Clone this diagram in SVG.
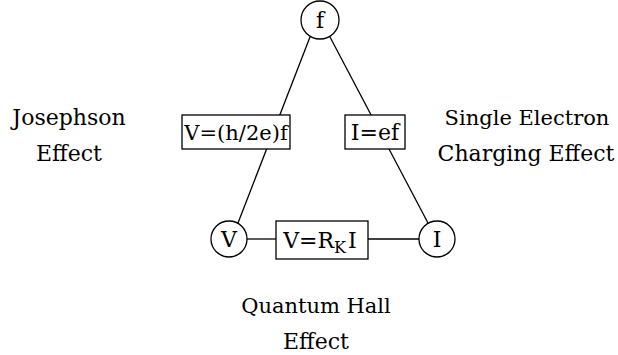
<svg xmlns="http://www.w3.org/2000/svg" width="618" height="355" viewBox="0 0 618 355">
<style>
text{font-family:"DejaVu Serif","Liberation Serif",serif;font-size:22px;fill:#000;text-anchor:middle}
.s21{font-size:21px}
.n{fill:#fff;stroke:#000;stroke-width:1.3}
.c{stroke:#000;stroke-width:1.3;fill:none}
</style>
<rect width="618" height="355" fill="#fff"/>
<g id="connectors">
<line class="c" x1="310" y1="37" x2="238" y2="223"/>
<line class="c" x1="330" y1="37" x2="428" y2="223"/>
<line class="c" x1="247" y1="239" x2="276" y2="239"/>
<line class="c" x1="368" y1="239" x2="419" y2="239"/>
</g>
<g id="node-f"><circle class="n" cx="320" cy="20" r="19"/><text x="320" y="28">f</text></g>
<g id="node-V"><circle class="n" cx="229" cy="239" r="18"/><text x="229" y="247">V</text></g>
<g id="node-I"><circle class="n" cx="437" cy="239" r="18"/><text x="437" y="247">I</text></g>
<g id="box-josephson"><rect class="n" x="182" y="115" width="108" height="34"/><text class="s21" x="236" y="140">V=(h/2e)f</text></g>
<g id="box-single"><rect class="n" x="345" y="115" width="60" height="34"/><text x="375" y="140">I=ef</text></g>
<g id="box-hall"><rect class="n" x="276" y="221" width="92" height="38"/><text x="320" y="248">V=R<tspan font-size="16" dy="5">K</tspan><tspan dy="-5" dx="2">I</tspan></text></g>
<g id="label-josephson"><text x="69" y="125">Josephson</text><text x="69" y="161">Effect</text></g>
<g id="label-single"><text class="s21" x="527" y="125">Single Electron</text><text x="526" y="161">Charging Effect</text></g>
<g id="label-hall"><text class="s21" x="316" y="313">Quantum Hall</text><text x="316" y="349">Effect</text></g>
</svg>
